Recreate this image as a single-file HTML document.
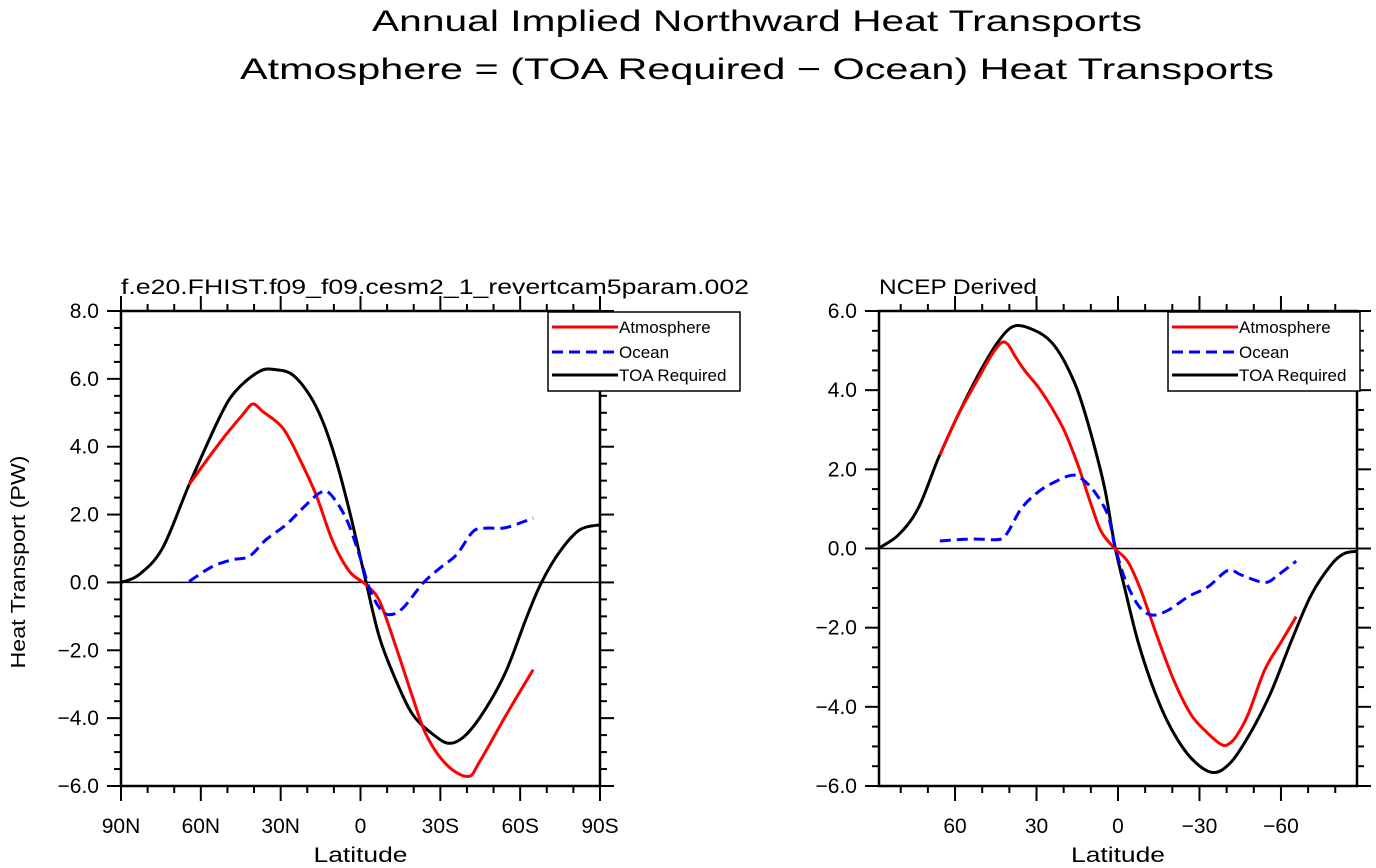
<!DOCTYPE html>
<html><head><meta charset="utf-8"><style>
html,body{margin:0;padding:0;background:#fff;}
svg{display:block;font-family:"Liberation Sans",sans-serif;}
</style></head><body>
<svg id="chart" width="1376" height="868" viewBox="0 0 1376 868">
<text x="757" y="31" font-size="30" text-anchor="middle" textLength="770" lengthAdjust="spacingAndGlyphs">Annual Implied Northward Heat Transports</text>
<text x="757" y="79" font-size="30" text-anchor="middle" textLength="1034" lengthAdjust="spacingAndGlyphs">Atmosphere = (TOA Required − Ocean) Heat Transports</text>
</svg>
<script>
// ---- Left panel data (CESM model) ----
const leftToaLat = [90,83.2,74.4,64.4,53.1,47.0,38.0,31.8,25.5,19.2,14.2,9.1,4.1,-2.1,-7.2,-13.5,-19.7,-27.3,-33.5,-39.8,-47.3,-54.8,-62.4,-68.0,-74.9,-82.4,-90];
const leftToaVal = [0,0.23,1.01,2.88,4.84,5.63,6.22,6.27,6.12,5.53,4.75,3.57,2.09,0,-1.64,-2.92,-3.9,-4.48,-4.74,-4.48,-3.69,-2.6,-1.03,0,0.91,1.55,1.70];
const leftAtmLat = [64.4,58.1,50.6,44.3,40.5,36.8,29.2,23.0,16.7,10.4,4.1,-2.1,-7.2,-13.5,-19.7,-24.7,-32.3,-40.4,-44.8,-54.8,-64.9];
const leftAtmVal = [2.88,3.57,4.35,4.94,5.26,5.04,4.55,3.66,2.58,1.21,0.32,-0.07,-0.56,-1.94,-3.41,-4.49,-5.37,-5.72,-5.28,-3.9,-2.57];
const leftOcnLat = [64.4,55.6,48.1,41.8,35.5,28.0,21.7,15.5,11.7,5.5,0.5,-3.3,-7.2,-10.9,-15.9,-23.5,-29.8,-36.1,-42.3,-47.3,-53.6,-59.9,-64.9];
const leftOcnVal = [0.03,0.47,0.67,0.77,1.26,1.70,2.19,2.63,2.63,1.90,0.82,-0.17,-0.76,-0.95,-0.76,-0.02,0.42,0.82,1.50,1.60,1.60,1.75,1.90];
const leftYTicks = ["8.0","6.0","4.0","2.0","0.0","-2.0","-4.0","-6.0"];
const leftXTickVals = [90,60,30,0,-30,-60,-90];
const leftXTickLabels = ["90N","60N","30N","0","30S","60S","90S"];
// ---- Right panel data (NCEP derived) ----
const rightToaLat = [88.3,80.9,73.6,66.2,58.9,51.5,44.2,38.1,30.7,24.6,19.6,14.7,9.8,4.9,1.2,-2.5,-7.4,-13.5,-19.6,-27.0,-34.9,-41.7,-49.0,-56.4,-63.7,-71.1,-78.4,-83.3,-88.3];
const rightToaVal = [0,0.34,1.01,2.27,3.37,4.38,5.22,5.62,5.51,5.22,4.71,3.96,2.86,1.52,0.08,-1.01,-2.36,-3.62,-4.55,-5.30,-5.66,-5.39,-4.63,-3.62,-2.36,-1.18,-0.42,-0.13,-0.07];
const rightAtmLat = [65.6,58.9,51.5,46.6,42.9,40.5,38.1,34.4,29.4,24.6,19.6,14.7,9.8,6.1,1.2,-3.7,-8.6,-14.7,-20.8,-27.0,-33.1,-38.0,-40.5,-43.5,-47.8,-54.0,-60.1,-65.6];
const rightAtmVal = [2.36,3.37,4.29,4.88,5.20,5.15,4.88,4.50,4.08,3.58,2.95,2.10,1.09,0.42,0,-0.34,-1.09,-2.27,-3.37,-4.21,-4.67,-4.95,-4.95,-4.75,-4.21,-3.07,-2.36,-1.72];
const rightOcnLat = [65.6,54.0,43.6,40.5,35.6,29.4,23.3,17.2,13.5,8.6,3.7,1.2,-2.5,-7.4,-12.3,-18.4,-25.8,-33.1,-40.5,-45.4,-54.0,-58.9,-65.6];
const rightOcnVal = [0.19,0.24,0.23,0.42,1.01,1.43,1.68,1.85,1.77,1.43,0.84,0.08,-0.76,-1.43,-1.68,-1.56,-1.22,-0.97,-0.55,-0.67,-0.86,-0.67,-0.32];
const rightYTicks = ["6.0","4.0","2.0","0.0","-2.0","-4.0","-6.0"];
const rightXTickVals = [60,30,0,-30,-60];
const rightXTickLabels = ["60","30","0","\u221230","\u221260"];

const NS="http://www.w3.org/2000/svg";
const svg=document.getElementById('chart');
function mk(tag,attrs,parent){const e=document.createElementNS(NS,tag);for(const k in attrs)e.setAttribute(k,attrs[k]);(parent||svg).appendChild(e);return e;}
function smoothPath(pts){
  let d=`M${pts[0][0].toFixed(1)},${pts[0][1].toFixed(1)}`;
  for(let i=0;i<pts.length-1;i++){
    const p0=pts[i-1]||pts[i],p1=pts[i],p2=pts[i+1],p3=pts[i+2]||p2;
    const c1=[p1[0]+(p2[0]-p0[0])/6,p1[1]+(p2[1]-p0[1])/6];
    const c2=[p2[0]-(p3[0]-p1[0])/6,p2[1]-(p3[1]-p1[1])/6];
    d+=`C${c1[0].toFixed(1)},${c1[1].toFixed(1)} ${c2[0].toFixed(1)},${c2[1].toFixed(1)} ${p2[0].toFixed(1)},${p2[1].toFixed(1)}`;
  }
  return d;
}
function panel(o){
  const g=mk('g',{});
  
  
  const xs=v=>o.x0+(o.lat0-v)/(o.lat0-o.lat1)*(o.x1-o.x0);
  const ys=v=>o.y0+(o.vmax-v)/(o.vmax-o.vmin)*(o.y1-o.y0);
  // ticks
  const tk=mk('g',{stroke:'#000','stroke-width':2},g);
  
  
  for(let v=o.vmin;v<=o.vmax+1e-6;v+=0.5){
    const maj=Math.abs(v/2-Math.round(v/2))<1e-6, L=maj?14:7, y=ys(v);
    mk('line',{x1:o.x0-L,y1:y,x2:o.x0,y2:y},tk);
    mk('line',{x1:o.x1,y1:y,x2:o.x1+L,y2:y},tk);
  }
  for(let a=Math.ceil(o.lat1/10)*10;a<=o.lat0+1e-6;a+=10){
    const maj=a%30===0, L=maj?15:7, x=xs(a);
    mk('line',{x1:x,y1:o.y1,x2:x,y2:o.y1+L},tk);
    mk('line',{x1:x,y1:o.y0-L,x2:x,y2:o.y0},tk);
  }
  // zero line
  const z=mk('line',{x1:o.x0,y1:ys(0),x2:o.x1,y2:ys(0),stroke:'#000','stroke-width':1.5},g);
  
  
  // series
  const clip='clip-'+o.name;
  const cp=mk('clipPath',{id:clip},g);mk('rect',{x:o.x0,y:o.y0-4,width:o.x1-o.x0,height:o.y1-o.y0+8},cp);
  const series=[[o.toaLat,o.toaVal,'#000',null,'toa-required-line'],[o.atmLat,o.atmVal,'#f00',null,'atmosphere-line'],[o.ocnLat,o.ocnVal,'#00f','11 6','ocean-line']];
  for(const s of series){
    const pts=s[0].map((a,i)=>[xs(a),ys(s[1][i])]);
    const p=mk('path',{d:smoothPath(pts),fill:'none',stroke:s[2],'stroke-width':3,'clip-path':`url(#${clip})`},g);
    if(s[3])p.setAttribute('stroke-dasharray',s[3]);
    
    
  }
  // frame
  const fr=mk('rect',{x:o.x0,y:o.y0,width:o.x1-o.x0,height:o.y1-o.y0,fill:'none',stroke:'#000','stroke-width':2.5},g);
  
  
  // y tick labels
  o.yTicks.forEach(t=>{
    const v=parseFloat(t);
    const e=mk('text',{x:o.x0-22,y:ys(v)+7,'font-size':21,'text-anchor':'end'},g);
    e.textContent=t.replace('-','\u2212');
    
    
  });
  o.xTickVals.forEach((v,i)=>{
    const e=mk('text',{x:xs(v),y:o.y1+47,'font-size':21,'text-anchor':'middle'},g);
    e.textContent=o.xTickLabels[i];
    
    
  });
  const xl=mk('text',{x:(o.x0+o.x1)/2,y:862,'font-size':21,'text-anchor':'middle',textLength:94,lengthAdjust:'spacingAndGlyphs'},g);
  xl.textContent='Latitude';
  
  
  const st=mk('text',{x:o.x0,y:o.y0-17,'font-size':21,textLength:o.subLen,lengthAdjust:'spacingAndGlyphs'},g);
  st.textContent=o.sub;
  
  
  // legend
  const lg=mk('g',{},g);
  
  
  mk('rect',{x:o.lx,y:312,width:192,height:79,fill:'#fff',stroke:'#000','stroke-width':1.5},lg);
  [['Atmosphere','#f00',null,327],['Ocean','#00f','11 6',352],['TOA Required','#000',null,375]].forEach(r=>{
    const l=mk('line',{x1:o.lx+4,y1:r[3],x2:o.lx+70,y2:r[3],stroke:r[1],'stroke-width':3},lg);
    if(r[2])l.setAttribute('stroke-dasharray',r[2]);
    
    
    const t=mk('text',{x:o.lx+71,y:r[3]+6,'font-size':17},lg);
    t.textContent=r[0];
    
    
  });
}
panel({name:'left-panel-cesm',x0:121,x1:600,y0:311,y1:786,lat0:90,lat1:-90,vmax:8,vmin:-6,
  toaLat:leftToaLat,toaVal:leftToaVal,atmLat:leftAtmLat,atmVal:leftAtmVal,ocnLat:leftOcnLat,ocnVal:leftOcnVal,
  yTicks:leftYTicks,xTickVals:leftXTickVals,xTickLabels:leftXTickLabels,
  sub:'f.e20.FHIST.f09_f09.cesm2_1_revertcam5param.002',subLen:628,lx:548});
panel({name:'right-panel-ncep',x0:879,x1:1357,y0:311,y1:786,lat0:88,lat1:-88,vmax:6,vmin:-6,
  toaLat:rightToaLat,toaVal:rightToaVal,atmLat:rightAtmLat,atmVal:rightAtmVal,ocnLat:rightOcnLat,ocnVal:rightOcnVal,
  yTicks:rightYTicks,xTickVals:rightXTickVals,xTickLabels:rightXTickLabels,
  sub:'NCEP Derived',subLen:158,lx:1168});
const yl=mk('text',{x:0,y:0,'font-size':20,'text-anchor':'middle',textLength:213,lengthAdjust:'spacingAndGlyphs',transform:'translate(25,562) rotate(-90)'});
yl.textContent='Heat Transport (PW)';


</script>
</body></html>
